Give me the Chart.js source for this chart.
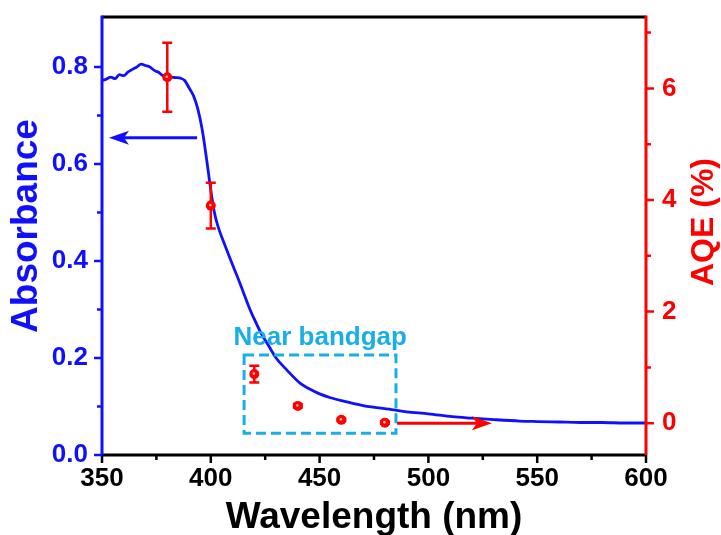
<!DOCTYPE html>
<html>
<head>
<meta charset="utf-8">
<script src="https://cdn.jsdelivr.net/npm/chart.js@4.4.1/dist/chart.umd.min.js"></script>
<style>
  html, body { margin: 0; padding: 0; background: #fff; }
  #wrap { width: 721px; height: 535px; }
</style>
</head>
<body>
<div id="wrap"><canvas id="abs-chart" width="721" height="535"></canvas></div>
<script>
// UV-vis absorbance spectrum (left axis)
var absWl = [350, 352, 354, 356, 358, 360, 362, 364, 366, 368, 370, 372, 374, 376, 378, 380,
    382, 384, 386, 388, 390, 392, 394, 396, 398, 399, 400, 401, 402, 403, 404, 406, 408, 410,
    412, 415, 418, 420, 423, 427, 430, 435, 441, 445, 450, 455, 460, 470, 484, 490, 500, 511,
    520, 530, 542, 550, 560, 570, 580, 590, 600];
var absVal = [0.772, 0.775, 0.779, 0.776, 0.784, 0.782, 0.790, 0.795, 0.800, 0.806, 0.803, 0.800,
    0.793, 0.789, 0.782, 0.781, 0.779, 0.778, 0.777, 0.772, 0.757, 0.741, 0.714, 0.672, 0.612,
    0.579, 0.546, 0.516, 0.493, 0.476, 0.462, 0.438, 0.415, 0.392, 0.370, 0.335, 0.300, 0.280,
    0.252, 0.222, 0.200, 0.175, 0.148, 0.137, 0.126, 0.118, 0.112, 0.102, 0.093, 0.089, 0.085,
    0.079, 0.076, 0.073, 0.070, 0.069, 0.068, 0.067, 0.067, 0.066, 0.066];

// apparent quantum efficiency (right axis)
var aqeWl = [380, 400, 420, 440, 460, 480];
var aqeVal = [6.2, 3.9, 0.88, 0.31, 0.06, 0.01];
var aqeErr = [0.62, 0.41, 0.15, 0.03, 0.02, 0.02];

// tick labels
var xTicks = [350, 400, 450, 500, 550, 600];
var xMinor = [375, 425, 475, 525, 575];
var absTicks = [0, 0.2, 0.4, 0.6, 0.8];
var absMinor = [0.1, 0.3, 0.5, 0.7];
var aqeTicks = [0, 2, 4, 6];
var aqeMinor = [1, 3, 5, 7];

var BLUE = '#1010ff';
var RED = '#ff0000';
var CYAN = '#18aeea';
var FONT = '"Liberation Sans", Arial, sans-serif';

function fixTicks(list) {
    return function (scale) {
        scale.ticks = list.map(function (v) { return { value: v }; });
    };
}

// fixed axis box sizes, no extra room for overhanging labels
function fixBox(w, h) {
    return function (s) {
        if (w) s.width = w;
        if (h) s.height = h;
        s.paddingTop = 0;
        s.paddingBottom = 0;
        s.paddingLeft = 0;
        s.paddingRight = 0;
    };
}

var absPoints = absWl.map(function (w, i) { return { x: w, y: absVal[i] }; });
var aqePoints = aqeWl.map(function (w, i) { return { x: w, y: aqeVal[i] }; });

// frame, tick marks, error bars, arrows, dashed box and axis titles
var decorPlugin = {
    id: 'decor',
    afterDatasetsDraw: function (chart) {
        var ctx = chart.ctx;
        var a = chart.chartArea;
        var sx = chart.scales.x, sy = chart.scales.y, sr = chart.scales.yR;

        ctx.save();

        // dashed "near bandgap" box
        var bx1 = sx.getPixelForValue(415.3), bx2 = sx.getPixelForValue(485.1);
        var by1 = sy.getPixelForValue(0.206), by2 = sy.getPixelForValue(0.045);
        ctx.strokeStyle = CYAN;
        ctx.lineWidth = 3;
        ctx.setLineDash([10, 5]);
        ctx.strokeRect(bx1, by1, bx2 - bx1, by2 - by1);
        ctx.setLineDash([]);
        ctx.fillStyle = CYAN;
        ctx.font = 'bold 26px ' + FONT;
        ctx.textAlign = 'center';
        ctx.textBaseline = 'alphabetic';
        ctx.fillText('Near bandgap', sx.getPixelForValue(450.3), sy.getPixelForValue(0.227));

        // arrows pointing to the matching axis
        function arrow(x1, x2, y, color) {
            var dir = x2 > x1 ? 1 : -1;
            ctx.strokeStyle = color;
            ctx.fillStyle = color;
            ctx.lineWidth = 3;
            ctx.beginPath();
            ctx.moveTo(x1, y);
            ctx.lineTo(x2 - dir * 14, y);
            ctx.stroke();
            ctx.beginPath();
            ctx.moveTo(x2, y);
            ctx.lineTo(x2 - dir * 20, y - 7);
            ctx.lineTo(x2 - dir * 15, y);
            ctx.lineTo(x2 - dir * 20, y + 7);
            ctx.closePath();
            ctx.fill();
        }
        arrow(sx.getPixelForValue(393.7), sx.getPixelForValue(353.2), sy.getPixelForValue(0.654), BLUE);
        arrow(sx.getPixelForValue(485.6), sx.getPixelForValue(529.2), sr.getPixelForValue(0), RED);

        // error bars with caps, then the markers on top
        ctx.strokeStyle = RED;
        ctx.lineWidth = 2.5;
        for (var i = 0; i < aqeWl.length; i++) {
            var px = sx.getPixelForValue(aqeWl[i]);
            var top = sr.getPixelForValue(aqeVal[i] + aqeErr[i]);
            var bot = sr.getPixelForValue(aqeVal[i] - aqeErr[i]);
            ctx.beginPath();
            ctx.moveTo(px, top); ctx.lineTo(px, bot);
            ctx.moveTo(px - 5, top); ctx.lineTo(px + 5, top);
            ctx.moveTo(px - 5, bot); ctx.lineTo(px + 5, bot);
            ctx.stroke();
        }
        for (var j = 0; j < aqeWl.length; j++) {
            var cx = sx.getPixelForValue(aqeWl[j]);
            var cy = sr.getPixelForValue(aqeVal[j]);
            ctx.fillStyle = RED;
            ctx.beginPath();
            ctx.arc(cx, cy, 5, 0, Math.PI * 2);
            ctx.fill();
            ctx.fillStyle = '#ffb0b0';
            ctx.beginPath();
            ctx.arc(cx - 0.5, cy - 0.5, 1.3, 0, Math.PI * 2);
            ctx.fill();
        }

        // axis lines
        ctx.lineWidth = 3;
        ctx.strokeStyle = '#000';
        ctx.beginPath();
        ctx.moveTo(a.left, a.top); ctx.lineTo(a.right, a.top);
        ctx.moveTo(a.left, a.bottom); ctx.lineTo(a.right, a.bottom);
        ctx.stroke();
        ctx.strokeStyle = BLUE;
        ctx.beginPath();
        ctx.moveTo(a.left, a.top - 1.5); ctx.lineTo(a.left, a.bottom);
        ctx.stroke();
        ctx.strokeStyle = RED;
        ctx.beginPath();
        ctx.moveTo(a.right, a.top - 1.5); ctx.lineTo(a.right, a.bottom);
        ctx.stroke();

        // tick marks, major and minor
        ctx.lineWidth = 2.5;
        ctx.strokeStyle = '#000';
        ctx.beginPath();
        xTicks.forEach(function (v) {
            var p = sx.getPixelForValue(v);
            ctx.moveTo(p, a.bottom); ctx.lineTo(p, a.bottom + 8);
        });
        xMinor.forEach(function (v) {
            var p = sx.getPixelForValue(v);
            ctx.moveTo(p, a.bottom); ctx.lineTo(p, a.bottom + 5);
        });
        ctx.stroke();
        ctx.strokeStyle = BLUE;
        ctx.beginPath();
        absTicks.forEach(function (v) {
            var p = sy.getPixelForValue(v);
            ctx.moveTo(a.left, p); ctx.lineTo(a.left - 8, p);
        });
        absMinor.forEach(function (v) {
            var p = sy.getPixelForValue(v);
            ctx.moveTo(a.left, p); ctx.lineTo(a.left - 5, p);
        });
        ctx.stroke();
        ctx.strokeStyle = RED;
        ctx.beginPath();
        aqeTicks.forEach(function (v) {
            var p = sr.getPixelForValue(v);
            ctx.moveTo(a.right, p); ctx.lineTo(a.right + 8, p);
        });
        aqeMinor.forEach(function (v) {
            var p = sr.getPixelForValue(v);
            ctx.moveTo(a.right, p); ctx.lineTo(a.right + 5, p);
        });
        ctx.stroke();

        // axis titles, both vertical ones read bottom to top
        ctx.textAlign = 'center';
        ctx.textBaseline = 'middle';
        ctx.fillStyle = '#000';
        ctx.font = 'bold 37px ' + FONT;
        ctx.fillText('Wavelength (nm)', 374, 518);

        ctx.save();
        ctx.translate(27, 226);
        ctx.rotate(-Math.PI / 2);
        ctx.fillStyle = BLUE;
        ctx.font = 'bold 37px ' + FONT;
        ctx.fillText('Absorbance', 0, 0);
        ctx.restore();

        ctx.save();
        ctx.translate(704, 222);
        ctx.rotate(-Math.PI / 2);
        ctx.fillStyle = RED;
        ctx.font = 'bold 32px ' + FONT;
        ctx.fillText('AQE (%)', 0, 0);
        ctx.restore();

        ctx.restore();
    }
};

var ctx = document.getElementById('abs-chart').getContext('2d');
window.absChart = new Chart(ctx, {
    type: 'scatter',
    data: {
        datasets: [{
            label: 'Absorbance',
            data: absPoints,
            yAxisID: 'y',
            showLine: true,
            borderColor: BLUE,
            borderWidth: 2.8,
            pointRadius: 0,
            cubicInterpolationMode: 'monotone'
        }, {
            label: 'AQE',
            data: aqePoints,
            yAxisID: 'yR',
            showLine: false,
            pointRadius: 0
        }]
    },
    options: {
        responsive: false,
        animation: false,
        devicePixelRatio: 1,
        layout: { padding: { top: 17, left: 0, right: 0, bottom: 0 } },
        plugins: {
            legend: { display: false },
            tooltip: { enabled: false }
        },
        scales: {
            x: {
                type: 'linear',
                min: 350,
                max: 600,
                afterBuildTicks: fixTicks(xTicks),
                afterFit: fixBox(0, 80),
                grid: { display: false, drawTicks: false },
                border: { display: false },
                ticks: {
                    color: '#000',
                    padding: 8,
                    maxRotation: 0,
                    font: { family: FONT, size: 26, weight: 'bold' }
                }
            },
            y: {
                position: 'left',
                min: 0,
                max: 0.903,
                afterBuildTicks: fixTicks(absTicks),
                afterFit: fixBox(102, 0),
                grid: { display: false, drawTicks: false },
                border: { display: false },
                ticks: {
                    color: BLUE,
                    padding: 14,
                    font: { family: FONT, size: 26, weight: 'bold' },
                    callback: function (v) { return v.toFixed(1); }
                }
            },
            yR: {
                position: 'right',
                min: -0.57,
                max: 7.28,
                afterBuildTicks: fixTicks(aqeTicks),
                afterFit: fixBox(75, 0),
                grid: { display: false, drawTicks: false },
                border: { display: false },
                ticks: {
                    color: RED,
                    padding: 16,
                    font: { family: FONT, size: 26, weight: 'bold' }
                }
            }
        }
    },
    plugins: [decorPlugin]
});
</script>
</body>
</html>
